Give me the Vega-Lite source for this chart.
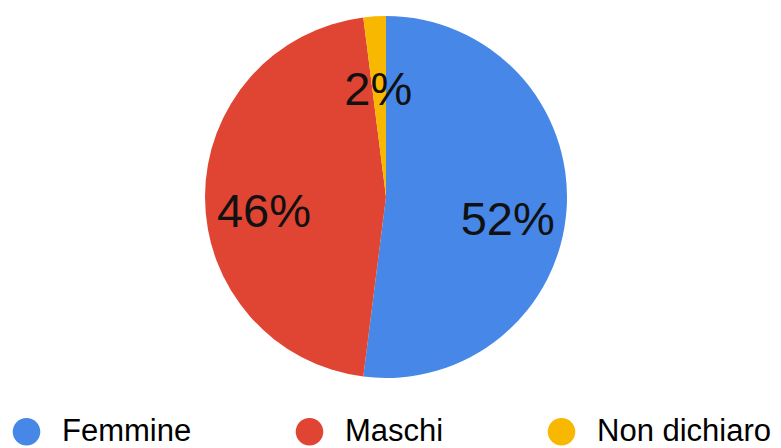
{
  "$schema": "https://vega.github.io/schema/vega-lite/v6.json",
  "width": 772,
  "height": 394,
  "padding": 0,
  "background": "white",
  "data": {
    "values": [
      {"gruppo": "Femmine", "valore": 52, "etichetta": "52%"},
      {"gruppo": "Maschi", "valore": 46, "etichetta": "46%"},
      {"gruppo": "Non dichiaro", "valore": 2, "etichetta": "2%"}
    ]
  },
  "encoding": {
    "theta": {"field": "valore", "type": "quantitative", "stack": true},
    "order": {"field": "valore", "type": "quantitative", "sort": "descending"},
    "color": {
      "field": "gruppo",
      "type": "nominal",
      "sort": ["Femmine", "Maschi", "Non dichiaro"],
      "scale": {
        "domain": ["Femmine", "Maschi", "Non dichiaro"],
        "range": ["#4787e7", "#e04534", "#f8b800"]
      },
      "legend": {
        "title": null,
        "orient": "none",
        "legendX": 11,
        "legendY": 416,
        "direction": "horizontal",
        "symbolType": "circle",
        "symbolSize": 760,
        "symbolStrokeWidth": 0,
        "labelFontSize": 31,
        "labelFont": "Liberation Sans",
        "labelColor": "#000000",
        "labelOffset": 20,
        "columnPadding": 102,
        "padding": 0,
        "labelLimit": 400
      }
    }
  },
  "layer": [
    {"mark": {"type": "arc", "outerRadius": 181}},
    {
      "mark": {"type": "text", "radius": 122, "dy": 16, "fontSize": 47, "font": "Liberation Sans", "color": "#111111"},
      "encoding": {"text": {"field": "etichetta"}, "color": {"value": "#111111"}, "detail": {"field": "gruppo"}}
    }
  ],
  "config": {"view": {"stroke": null}}
}
